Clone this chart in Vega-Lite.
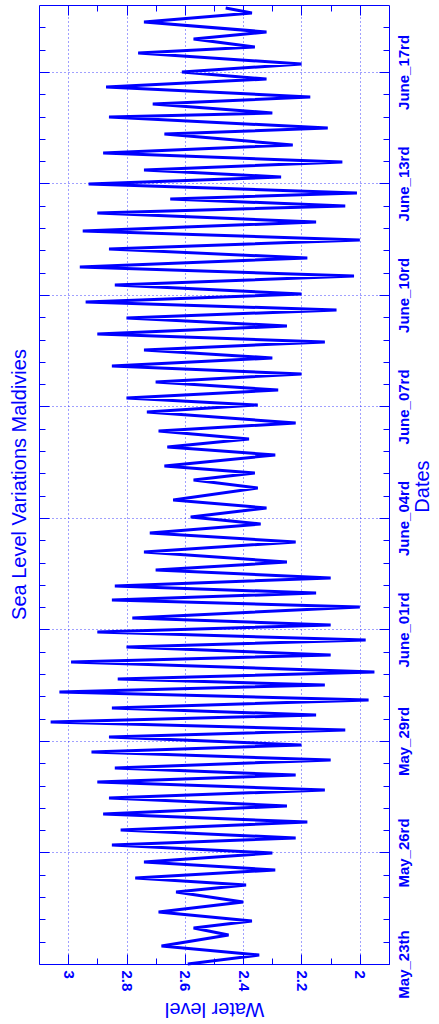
{
  "$schema": "https://vega.github.io/schema/vega-lite/v6.json",
  "width": 350,
  "height": 959,
  "autosize": {"type": "none"},
  "padding": {"left": 39, "top": 5, "right": 50, "bottom": 60},
  "background": "white",
  "title": {"text": "Sea Level Variations Maldivies", "orient": "left", "anchor": "middle", "fontSize": 20, "fontWeight": "normal", "color": "#0000ff", "offset": -7, "baseline": "alphabetic", "font": "Liberation Sans"},
  "config": {
    "font": "Liberation Sans",
    "view": {"stroke": "#0000ff", "strokeWidth": 1},
    "axis": {"domain": false, "labelColor": "#0000ff", "tickColor": "#0000ff", "titleColor": "#0000ff", "gridColor": "#0000ff", "gridOpacity": 0.75, "gridDash": [1, 3], "tickWidth": 1}
  },
  "data": {"values": [
    {"d": 0, "w": 2.59}, {"d": 0.242, "w": 2.345}, {"d": 0.484, "w": 2.68}, {"d": 0.78, "w": 2.45}, {"d": 0.969, "w": 2.57}, {"d": 1.157, "w": 2.37}, {"d": 1.399, "w": 2.69}, {"d": 1.668, "w": 2.4}, {"d": 1.937, "w": 2.63}, {"d": 2.125, "w": 2.39}, {"d": 2.314, "w": 2.77}, {"d": 2.529, "w": 2.29}, {"d": 2.744, "w": 2.74}, {"d": 2.986, "w": 2.3},
    {"d": 3.201, "w": 2.85}, {"d": 3.39, "w": 2.22}, {"d": 3.605, "w": 2.82}, {"d": 3.82, "w": 2.18}, {"d": 4.035, "w": 2.88}, {"d": 4.251, "w": 2.25}, {"d": 4.466, "w": 2.86}, {"d": 4.681, "w": 2.12}, {"d": 4.896, "w": 2.9}, {"d": 5.085, "w": 2.22}, {"d": 5.273, "w": 2.84}, {"d": 5.488, "w": 2.1}, {"d": 5.703, "w": 2.92}, {"d": 5.892, "w": 2.2},
    {"d": 6.107, "w": 2.86}, {"d": 6.295, "w": 2.05}, {"d": 6.511, "w": 3.06}, {"d": 6.699, "w": 2.15}, {"d": 6.887, "w": 2.85}, {"d": 7.102, "w": 1.97}, {"d": 7.318, "w": 3.03}, {"d": 7.506, "w": 2.12}, {"d": 7.667, "w": 2.83}, {"d": 7.856, "w": 1.95}, {"d": 8.125, "w": 2.99}, {"d": 8.313, "w": 2.1}, {"d": 8.528, "w": 2.8}, {"d": 8.717, "w": 1.98}, {"d": 8.932, "w": 2.9},
    {"d": 9.12, "w": 2.1}, {"d": 9.309, "w": 2.78}, {"d": 9.604, "w": 2.0}, {"d": 9.793, "w": 2.85}, {"d": 9.981, "w": 2.15}, {"d": 10.169, "w": 2.84}, {"d": 10.385, "w": 2.1}, {"d": 10.6, "w": 2.7}, {"d": 10.815, "w": 2.25}, {"d": 11.084, "w": 2.74}, {"d": 11.353, "w": 2.22}, {"d": 11.595, "w": 2.72}, {"d": 11.837, "w": 2.34},
    {"d": 12.026, "w": 2.58}, {"d": 12.268, "w": 2.32}, {"d": 12.483, "w": 2.64}, {"d": 12.806, "w": 2.35}, {"d": 13.021, "w": 2.57}, {"d": 13.209, "w": 2.36}, {"d": 13.398, "w": 2.67}, {"d": 13.694, "w": 2.29}, {"d": 13.909, "w": 2.66}, {"d": 14.124, "w": 2.38}, {"d": 14.339, "w": 2.69}, {"d": 14.555, "w": 2.22}, {"d": 14.851, "w": 2.73},
    {"d": 15.039, "w": 2.35}, {"d": 15.227, "w": 2.8}, {"d": 15.442, "w": 2.28}, {"d": 15.658, "w": 2.7}, {"d": 15.873, "w": 2.2}, {"d": 16.088, "w": 2.85}, {"d": 16.303, "w": 2.3}, {"d": 16.519, "w": 2.74}, {"d": 16.734, "w": 2.12}, {"d": 16.949, "w": 2.9}, {"d": 17.164, "w": 2.25}, {"d": 17.379, "w": 2.8}, {"d": 17.595, "w": 2.08}, {"d": 17.81, "w": 2.94},
    {"d": 18.025, "w": 2.2}, {"d": 18.267, "w": 2.84}, {"d": 18.509, "w": 2.02}, {"d": 18.752, "w": 2.96}, {"d": 18.994, "w": 2.18}, {"d": 19.236, "w": 2.86}, {"d": 19.478, "w": 2.0}, {"d": 19.72, "w": 2.95}, {"d": 19.962, "w": 2.15}, {"d": 20.204, "w": 2.9}, {"d": 20.393, "w": 2.05}, {"d": 20.581, "w": 2.65}, {"d": 20.742, "w": 2.01}, {"d": 20.985, "w": 2.93},
    {"d": 21.173, "w": 2.27}, {"d": 21.361, "w": 2.74}, {"d": 21.577, "w": 2.06}, {"d": 21.819, "w": 2.88}, {"d": 22.034, "w": 2.23}, {"d": 22.33, "w": 2.67}, {"d": 22.491, "w": 2.11}, {"d": 22.787, "w": 2.86}, {"d": 22.895, "w": 2.3}, {"d": 23.137, "w": 2.71}, {"d": 23.325, "w": 2.17}, {"d": 23.594, "w": 2.87}, {"d": 23.809, "w": 2.32},
    {"d": 23.998, "w": 2.61}, {"d": 24.213, "w": 2.2}, {"d": 24.509, "w": 2.76}, {"d": 24.67, "w": 2.36}, {"d": 24.886, "w": 2.57}, {"d": 25.074, "w": 2.32}, {"d": 25.343, "w": 2.74}, {"d": 25.585, "w": 2.37}, {"d": 25.72, "w": 2.46}
  ]},
  "resolve": {"axis": {"x": "independent", "y": "independent"}},
  "layer": [
    {
      "mark": {"type": "point", "opacity": 0},
      "encoding": {
        "x": {"field": "w", "type": "quantitative", "scale": {"domain": [1.9, 3.1], "reverse": true, "nice": false, "zero": false},
          "axis": {"orient": "bottom", "values": [2, 2.2, 2.4, 2.6, 2.8, 3], "labels": false, "ticks": true, "tickSize": -10, "grid": true, "title": null}},
        "y": {"field": "d", "type": "quantitative", "scale": {"domain": [0, 25.8], "nice": false, "zero": false},
          "axis": {"orient": "left", "values": [0, 3, 6, 9, 12, 15, 18, 21, 24], "labels": false, "ticks": true, "tickSize": -10, "grid": true, "title": null}}
      }
    },
    {
      "mark": {"type": "point", "opacity": 0},
      "encoding": {
        "x": {"field": "w", "type": "quantitative", "scale": {"domain": [1.9, 3.1], "reverse": true, "nice": false, "zero": false},
          "axis": {"orient": "top", "values": [2, 2.2, 2.4, 2.6, 2.8, 3], "labels": false, "ticks": true, "tickSize": -10, "grid": false, "title": null}},
        "y": {"field": "d", "type": "quantitative", "scale": {"domain": [0, 25.8], "nice": false, "zero": false},
          "axis": {"orient": "right", "values": [0, 3, 6, 9, 12, 15, 18, 21, 24], "labels": false, "ticks": true, "tickSize": -10, "grid": false, "title": null}}
      }
    },
    {
      "mark": {"type": "point", "opacity": 0},
      "encoding": {
        "x": {"field": "w", "type": "quantitative", "scale": {"domain": [1.9, 3.1], "reverse": true, "nice": false, "zero": false},
          "axis": {"orient": "bottom", "values": [2.1, 2.3, 2.5, 2.7, 2.9], "labels": false, "ticks": true, "tickSize": -6, "grid": false, "title": null}},
        "y": {"field": "d", "type": "quantitative", "scale": {"domain": [0, 25.8], "nice": false, "zero": false},
          "axis": {"orient": "left", "values": [0.6, 1.2, 1.8, 2.4, 3.6, 4.2, 4.8, 5.4, 6.6, 7.2, 7.8, 8.4, 9.6, 10.2, 10.8, 11.4, 12.6, 13.2, 13.8, 14.4, 15.6, 16.2, 16.8, 17.4, 18.6, 19.2, 19.8, 20.4, 21.6, 22.2, 22.8, 23.4, 24.6, 25.2], "labels": false, "ticks": true, "tickSize": -6, "grid": false, "title": null}}
      }
    },
    {
      "mark": {"type": "point", "opacity": 0},
      "encoding": {
        "x": {"field": "w", "type": "quantitative", "scale": {"domain": [1.9, 3.1], "reverse": true, "nice": false, "zero": false},
          "axis": {"orient": "top", "values": [2.1, 2.3, 2.5, 2.7, 2.9], "labels": false, "ticks": true, "tickSize": -6, "grid": false, "title": null}},
        "y": {"field": "d", "type": "quantitative", "scale": {"domain": [0, 25.8], "nice": false, "zero": false},
          "axis": {"orient": "right", "values": [0.6, 1.2, 1.8, 2.4, 3.6, 4.2, 4.8, 5.4, 6.6, 7.2, 7.8, 8.4, 9.6, 10.2, 10.8, 11.4, 12.6, 13.2, 13.8, 14.4, 15.6, 16.2, 16.8, 17.4, 18.6, 19.2, 19.8, 20.4, 21.6, 22.2, 22.8, 23.4, 24.6, 25.2], "labels": false, "ticks": true, "tickSize": -6, "grid": false, "title": null}}
      }
    },
    {
      "mark": {"type": "line", "color": "#0000ff", "strokeWidth": 3},
      "encoding": {
        "x": {"field": "w", "type": "quantitative", "scale": {"domain": [1.9, 3.1], "reverse": true, "nice": false, "zero": false},
          "axis": {"orient": "bottom", "values": [2, 2.2, 2.4, 2.6, 2.8, 3], "ticks": false, "grid": false, "labelAngle": 90, "labelAlign": "left", "labelBaseline": "middle", "labelPadding": 6, "labelFontSize": 15, "labelFontWeight": "bold", "labelFlush": false, "labelOverlap": false, "labelExpr": "format(datum.value, '~g')", "title": "Water level", "titleAngle": 180, "titleFontSize": 20, "titleFontWeight": "normal", "titleX": 175, "titleY": 38, "titleAlign": "center", "titleBaseline": "alphabetic"}},
        "y": {"field": "d", "type": "quantitative", "scale": {"domain": [0, 25.8], "nice": false, "zero": false},
          "axis": {"orient": "right", "values": [0, 3, 6, 9, 12, 15, 18, 21, 24], "ticks": false, "grid": false, "labelAngle": 270, "labelAlign": "center", "labelBaseline": "top", "labelPadding": 7, "labelFontSize": 15, "labelFontWeight": "bold", "labelFlush": false, "labelOverlap": false, "labelExpr": "['May_23th','May_26rd','May_29rd','June_01rd','June_04rd','June_07rd','June_10rd','June_13rd','June_17rd'][round(datum.value/3)]", "title": "Dates", "titleAngle": 270, "titleFontSize": 20, "titleFontWeight": "normal", "titleX": 39, "titleY": 481, "titleAlign": "center", "titleBaseline": "alphabetic"}},
        "order": {"field": "d", "type": "quantitative"}
      }
    }
  ]
}
